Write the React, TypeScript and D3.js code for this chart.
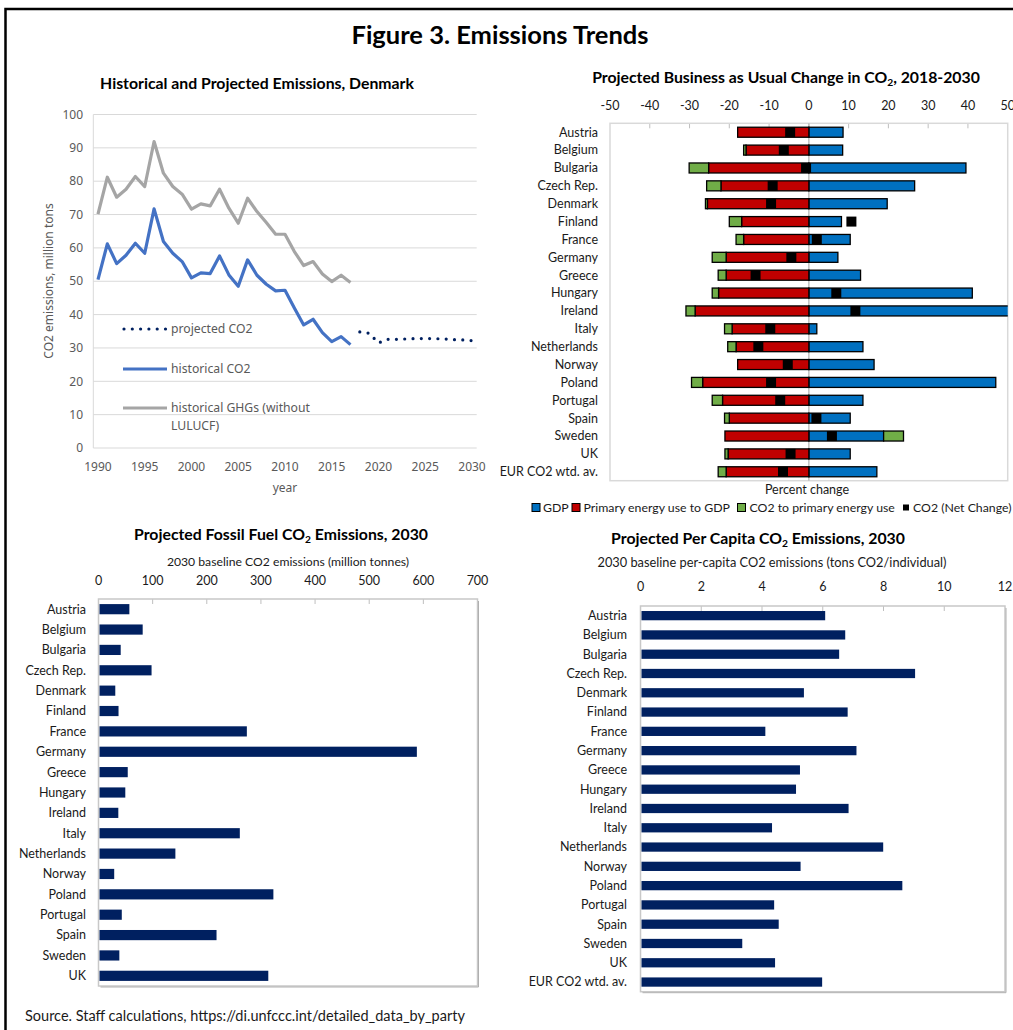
import React from 'react';
import * as d3 from 'd3';

// ---------- Data ----------
const categoryYears = [1990, 1991, 1992, 1993, 1994, 1995, 1996, 1997, 1998, 1999, 2000, 2001, 2002, 2003, 2004, 2005, 2006, 2007, 2008, 2009, 2010, 2011, 2012, 2013, 2014, 2015, 2016, 2017, 2018, 2019, 2020, 2021, 2022, 2023, 2024, 2025, 2026, 2027, 2028, 2029, 2030];
const historicalYears = [1990, 1991, 1992, 1993, 1994, 1995, 1996, 1997, 1998, 1999, 2000, 2001, 2002, 2003, 2004, 2005, 2006, 2007, 2008, 2009, 2010, 2011, 2012, 2013, 2014, 2015, 2016, 2017];
const historicalCO2 = [50.5, 61.2, 55.3, 57.8, 61.4, 58.4, 71.7, 61.9, 58.4, 55.9, 51.0, 52.5, 52.3, 57.6, 51.9, 48.5, 56.4, 51.8, 49.1, 47.1, 47.3, 42.0, 36.9, 38.6, 34.6, 31.9, 33.4, 31.0];
const historicalGHG = [70.1, 81.2, 75.2, 77.6, 81.4, 78.4, 91.9, 82.4, 78.4, 76.1, 71.6, 73.2, 72.6, 77.6, 71.9, 67.4, 74.9, 70.9, 67.6, 64.1, 64.1, 58.9, 54.7, 55.9, 52.2, 49.9, 51.8, 49.6];
const projectedYears = [2018, 2019, 2020, 2021, 2022, 2023, 2024, 2025, 2026, 2027, 2028, 2029, 2030];
const projectedCO2 = [34.8, 34.4, 31.5, 32.6, 32.6, 32.7, 32.8, 32.8, 32.8, 32.7, 32.5, 32.4, 32.2];
const yTicksHist = [0, 10, 20, 30, 40, 50, 60, 70, 80, 90, 100];
const xLabelYears = [1990, 1995, 2000, 2005, 2010, 2015, 2020, 2025, 2030];

const countries = ['Austria', 'Belgium', 'Bulgaria', 'Czech Rep.', 'Denmark', 'Finland', 'France', 'Germany', 'Greece', 'Hungary', 'Ireland', 'Italy', 'Netherlands', 'Norway', 'Poland', 'Portugal', 'Spain', 'Sweden', 'UK'];
const bauCategories = ['Austria', 'Belgium', 'Bulgaria', 'Czech Rep.', 'Denmark', 'Finland', 'France', 'Germany', 'Greece', 'Hungary', 'Ireland', 'Italy', 'Netherlands', 'Norway', 'Poland', 'Portugal', 'Spain', 'Sweden', 'UK', 'EUR CO2 wtd. av.'];
const gdpChange = [8.6, 8.5, 39.5, 26.6, 19.7, 8.2, 10.4, 7.3, 13.0, 41.1, 55.0, 2.0, 13.6, 16.4, 47.0, 13.6, 10.4, 18.8, 10.4, 17.1];
const energyToGdpChange = [-17.9, -15.8, -25.2, -22.1, -25.5, -16.9, -16.4, -20.8, -20.8, -22.7, -28.6, -19.3, -18.3, -17.9, -26.7, -21.7, -20.0, -21.1, -20.3, -20.8];
const co2ToEnergyChange = [0, -0.6, -4.9, -3.6, -0.5, -3.1, -1.9, -3.5, -2.0, -1.6, -2.3, -1.9, -2.1, 0, -2.8, -2.6, -1.2, 5.0, -0.8, -2.0];
const netCO2Change = [-4.7, -6.3, -0.7, -9.1, -9.5, 10.7, 2.0, -4.4, -13.4, 6.9, 11.7, -9.7, -12.7, -5.3, -9.5, -7.2, 1.9, 5.8, -4.6, -6.5];
const bauTicks = [-50, -40, -30, -20, -10, 0, 10, 20, 30, 40, 50];

const fossilCO2_2030 = [57, 81.6, 41, 98, 31, 37, 274, 588, 54, 49.5, 36.6, 261, 142, 29, 323, 43, 218, 38.5, 313.6];
const fossilTicks = [0, 100, 200, 300, 400, 500, 600, 700];

const perCapitaCO2_2030 = [6.08, 6.74, 6.54, 9.04, 5.38, 6.82, 4.11, 7.11, 5.25, 5.12, 6.85, 4.33, 7.99, 5.27, 8.62, 4.40, 4.55, 3.35, 4.43, 5.98];
const perCapitaTicks = [0, 2, 4, 6, 8, 10, 12];

// ---------- Styles ----------
const CAL = 'Lato, "Open Sans", sans-serif';
const SEG = '"Noto Sans", "Open Sans", sans-serif';
const BLUE = '#0070C0';
const RED = '#C00000';
const GREEN = '#70AD47';
const NAVY = '#002060';
const GRID = '#D9D9D9';
const TXT = '#595959';
const LBL = '#1a1a1a';
const TITLE_SIZE = 15.8;
const LBL_SIZE = 12.5;

function SubTitle({ x, y, before, after, size }: { x: number; y: number; before: string; after: string; size: number }) {
  const shift = size * 0.22;
  return (
    <text x={x} y={y} textAnchor="middle" fontFamily={CAL} fontWeight="bold" fontSize={size} fill="#000">
      {before}
      <tspan fontSize={size * 0.65} dy={shift}>2</tspan>
      <tspan dy={-shift}>{after}</tspan>
    </text>
  );
}

function HistoricalChart() {
  const x = d3.scaleBand<number>().domain(categoryYears).range([93.3, 476.7]).padding(0);
  const cx = (yr: number) => (x(yr) as number) + x.bandwidth() / 2;
  const y = d3.scaleLinear().domain([0, 100]).range([448, 114.5]);
  const line = d3.line<[number, number]>().x(d => cx(d[0])).y(d => y(d[1]));
  const co2Pts = historicalYears.map((yr, i) => [yr, historicalCO2[i]] as [number, number]);
  const ghgPts = historicalYears.map((yr, i) => [yr, historicalGHG[i]] as [number, number]);
  const projPts = projectedYears.map((yr, i) => [yr, projectedCO2[i]] as [number, number]);
  const [x0, x1] = x.range();
  return (
    <g>
      <text x={257} y={89} textAnchor="middle" fontFamily={CAL} fontWeight="bold" fontSize={TITLE_SIZE} fill="#000">
        Historical and Projected Emissions, Denmark
      </text>
      {yTicksHist.map(t => (
        <g key={t}>
          <line x1={x0} x2={x1} y1={y(t)} y2={y(t)} stroke={GRID} strokeWidth={1} />
          <text x={83} y={y(t)} dy="0.35em" textAnchor="end" fontFamily={SEG} fontSize={12} fill={TXT}>{t}</text>
        </g>
      ))}
      <line x1={x0} x2={x0} y1={y(100)} y2={y(0)} stroke={GRID} strokeWidth={1} />
      {xLabelYears.map(yr => (
        <text key={yr} x={cx(yr)} y={471} textAnchor="middle" fontFamily={SEG} fontSize={12} fill={TXT}>{yr}</text>
      ))}
      <text x={285} y={492} textAnchor="middle" fontFamily={SEG} fontSize={12} fill={TXT}>year</text>
      <text transform={`translate(49,281) rotate(-90)`} textAnchor="middle" dy="0.35em" fontFamily={SEG} fontSize={12} fill={TXT}>
        CO2 emissions, million tons
      </text>
      <path d={line(ghgPts) || ''} fill="none" stroke="#A5A5A5" strokeWidth={3.2} strokeLinejoin="round" />
      <path d={line(co2Pts) || ''} fill="none" stroke="#4472C4" strokeWidth={3.2} strokeLinejoin="round" />
      <path d={line(projPts) || ''} fill="none" stroke={NAVY} strokeWidth={3.2} strokeDasharray="0 8.3" strokeLinecap="round" />
      {/* legend */}
      <line x1={124} x2={167} y1={329} y2={329} stroke={NAVY} strokeWidth={3.2} strokeDasharray="0 8.3" strokeLinecap="round" />
      <text x={171} y={329} dy="0.35em" fontFamily={SEG} fontSize={12.2} fill={TXT}>projected CO2</text>
      <line x1={123} x2={167} y1={369} y2={369} stroke="#4472C4" strokeWidth={3.2} />
      <text x={171} y={369} dy="0.35em" fontFamily={SEG} fontSize={12.2} fill={TXT}>historical CO2</text>
      <line x1={123} x2={167} y1={408} y2={408} stroke="#A5A5A5" strokeWidth={3.2} />
      <text x={171} y={408} dy="0.35em" fontFamily={SEG} fontSize={12.2} fill={TXT}>historical GHGs (without</text>
      <text x={171} y={426} dy="0.35em" fontFamily={SEG} fontSize={12.2} fill={TXT}>LULUCF)</text>
    </g>
  );
}

function BauChart() {
  const x = d3.scaleLinear().domain([-50, 50]).range([610, 1007.7]);
  const y = d3.scaleBand<string>().domain(bauCategories).range([123.3, 480.7]);
  const bh = y.bandwidth() * 0.56;
  const top = 123.3, bottom = 480.7, left = 610, right = 1007.7;
  const segs: { key: string; x0: number; x1: number; y: number; color: string }[] = [];
  bauCategories.forEach((c, i) => {
    const yc = (y(c) as number) + y.bandwidth() / 2;
    segs.push({ key: c + 'gdp', x0: 0, x1: gdpChange[i], y: yc, color: BLUE });
    segs.push({ key: c + 'en', x0: energyToGdpChange[i], x1: 0, y: yc, color: RED });
    const g = co2ToEnergyChange[i];
    if (g < 0) segs.push({ key: c + 'co2', x0: energyToGdpChange[i] + g, x1: energyToGdpChange[i], y: yc, color: GREEN });
    else if (g > 0) segs.push({ key: c + 'co2', x0: gdpChange[i], x1: gdpChange[i] + g, y: yc, color: GREEN });
  });
  return (
    <g>
      <defs>
        <clipPath id="bauclip"><rect x={left} y={top} width={right - left} height={bottom - top} /></clipPath>
      </defs>
      <SubTitle x={786} y={83} before="Projected Business as Usual Change in CO" after=", 2018-2030" size={TITLE_SIZE} />
      {bauTicks.map(t => (
        <g key={t}>
          <text x={x(t)} y={106} dy="0.35em" textAnchor="middle" fontFamily={CAL} fontSize={LBL_SIZE} fill={LBL}>{t}</text>
          {t > -50 && t < 50 && <line x1={x(t)} x2={x(t)} y1={top} y2={top + 5} stroke="#BFBFBF" />}
        </g>
      ))}
      <rect x={left} y={top} width={right - left} height={bottom - top} fill="none" stroke={GRID} strokeWidth={1.5} />
      <line x1={x(0)} x2={x(0)} y1={top} y2={bottom} stroke="#BFBFBF" strokeWidth={1.5} />
      <g clipPath="url(#bauclip)">
        {segs.map(s => (
          <rect key={s.key} x={x(Math.min(s.x0, s.x1))} y={s.y - bh / 2} width={Math.abs(x(s.x1) - x(s.x0))} height={bh}
            fill={s.color} stroke="#000" strokeWidth={1.3} />
        ))}
        {bauCategories.map((c, i) => (
          <rect key={c + 'net'} x={x(netCO2Change[i]) - 5} y={(y(c) as number) + y.bandwidth() / 2 - 5} width={10} height={10} fill="#000" />
        ))}
      </g>
      {bauCategories.map(c => (
        <text key={c} x={598} y={(y(c) as number) + y.bandwidth() / 2} dy="0.35em" textAnchor="end" fontFamily={CAL} fontSize={LBL_SIZE} fill={LBL}>{c}</text>
      ))}
      <text x={807} y={490} dy="0.35em" textAnchor="middle" fontFamily={CAL} fontSize={LBL_SIZE} fill={LBL}>Percent change</text>
      {/* legend */}
      <rect x={532} y={503.5} width={8} height={8} fill={BLUE} stroke="#000" strokeWidth={1} />
      <text x={543} y={507.5} dy="0.35em" fontFamily={CAL} fontSize={12.3} fill={LBL}>GDP</text>
      <rect x={572} y={503.5} width={8} height={8} fill={RED} stroke="#000" strokeWidth={1} />
      <text x={583.5} y={507.5} dy="0.35em" fontFamily={CAL} fontSize={12.3} fill={LBL}>Primary energy use to GDP</text>
      <rect x={737.5} y={503.5} width={8} height={8} fill={GREEN} stroke="#000" strokeWidth={1} />
      <text x={749.5} y={507.5} dy="0.35em" fontFamily={CAL} fontSize={12.3} fill={LBL}>CO2 to primary energy use</text>
      <rect x={903} y={504.5} width={6} height={6} fill="#000" />
      <text x={913} y={507.5} dy="0.35em" fontFamily={CAL} fontSize={12.3} fill={LBL}>CO2 (Net Change)</text>
    </g>
  );
}

function HBarChart(props: {
  cats: string[]; values: number[]; ticks: number[]; domainMax: number;
  left: number; right: number; top: number; bottom: number;
  labelX: number; tickY: number; titleBefore: string; titleAfter: string; titleX: number; titleY: number;
  subtitle: string; subX: number; subY: number; subSize: number; ratio: number;
}) {
  const { cats, values, ticks, domainMax, left, right, top, bottom, labelX, tickY, titleBefore, titleAfter, titleX, titleY, subtitle, subX, subY, subSize, ratio } = props;
  const x = d3.scaleLinear().domain([0, domainMax]).range([left, right]);
  const y = d3.scaleBand<string>().domain(cats).range([top, bottom]);
  const bh = y.bandwidth() * ratio;
  return (
    <g>
      <SubTitle x={titleX} y={titleY} before={titleBefore} after={titleAfter} size={TITLE_SIZE} />
      <text x={subX} y={subY} dy="0.35em" textAnchor="middle" fontFamily={CAL} fontSize={subSize} fill={LBL}>{subtitle}</text>
      {ticks.map(t => (
        <g key={t}>
          <text x={x(t)} y={tickY} dy="0.35em" textAnchor="middle" fontFamily={CAL} fontSize={LBL_SIZE} fill={LBL}>{t}</text>
          {t > 0 && t < domainMax && <line x1={x(t)} x2={x(t)} y1={top} y2={top + 5} stroke="#BFBFBF" />}
        </g>
      ))}
      <rect x={left} y={top} width={right - left} height={bottom - top} fill="none" stroke="#C8C8C8" strokeWidth={1.5} />
      <path d={`M${right + 1},${top + 2} V${bottom + 1} H${left + 2}`} fill="none" stroke="#B0B0B0" strokeWidth={1} />
      {cats.map((c, i) => (
        <g key={c}>
          <rect x={x(0) + 1} y={(y(c) as number) + y.bandwidth() / 2 - bh / 2} width={x(values[i]) - x(0) - 1} height={bh} fill={NAVY} />
          <text x={labelX} y={(y(c) as number) + y.bandwidth() / 2} dy="0.35em" textAnchor="end" fontFamily={CAL} fontSize={LBL_SIZE} fill={LBL}>{c}</text>
        </g>
      ))}
    </g>
  );
}

export default function App() {
  return (
    <svg width={1013} height={1030} style={{ position: 'absolute', left: 0, top: 0, background: '#fff' }}>
      <rect x={0} y={0} width={1013} height={1030} fill="#fff" />
      <path d="M5.5,1030 V9 H1013" fill="none" stroke="#000" strokeWidth={2.5} />
      <text x={500} y={44} textAnchor="middle" fontFamily={CAL} fontWeight="bold" fontSize={25.5} fill="#000">Figure 3. Emissions Trends</text>
      <HistoricalChart />
      <BauChart />
      <HBarChart cats={countries} values={fossilCO2_2030} ticks={fossilTicks} domainMax={700}
        left={98.5} right={477.5} top={599} bottom={986} labelX={86} tickY={581}
        titleBefore="Projected Fossil Fuel CO" titleAfter=" Emissions, 2030" titleX={281} titleY={540}
        subtitle="2030 baseline CO2 emissions (million tonnes)" subX={288} subY={562} subSize={12.2} ratio={0.5} />
      <HBarChart cats={bauCategories} values={perCapitaCO2_2030} ticks={perCapitaTicks} domainMax={12}
        left={640.5} right={1005} top={606} bottom={991.7} labelX={627} tickY={587}
        titleBefore="Projected Per Capita CO" titleAfter=" Emissions, 2030" titleX={758} titleY={544}
        subtitle="2030 baseline per-capita CO2 emissions (tons CO2/individual)" subX={772} subY={563} subSize={12.8} ratio={0.48} />
      <text x={25} y={1016} dy="0.35em" fontFamily={CAL} fontSize={14.5} fill={LBL}>
        Source. Staff calculations, https://di.unfccc.int/detailed_data_by_party
      </text>
    </svg>
  );
}
